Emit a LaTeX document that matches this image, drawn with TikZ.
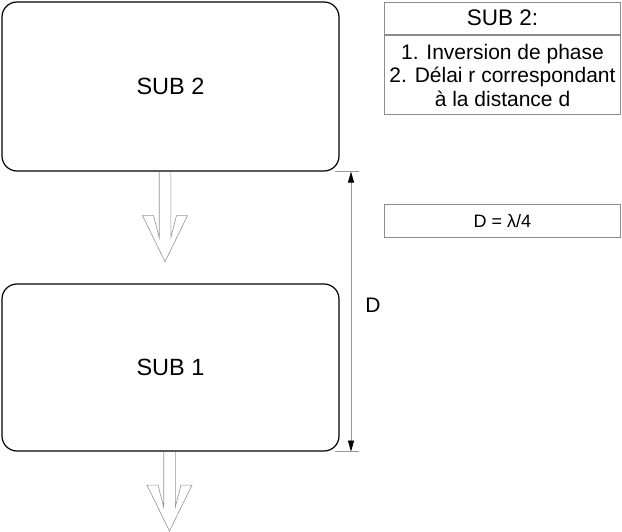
\documentclass[tikz,border=0pt]{standalone}
\usepackage{fontspec}
\setmainfont{Liberation Sans}
\usetikzlibrary{arrows.meta}

\tikzset{
    subbox/.style={draw=black, line width=1.2pt, rounded corners=15pt,
        minimum width=337pt, font=\fontsize{23.5}{27}\selectfont},
    infobox/.style={draw=gray!90, line width=0.8pt, minimum width=236.5pt,
        inner sep=0pt, align=center},
    arrowline/.style={draw=gray!85, line width=0.6pt},
    dimline/.style={draw=gray!80, line width=0.7pt},
    pics/harrow/.style={code={
        \draw[arrowline] (-5.8,0) -- (-5.8,#1+22) -- (-11.5,#1) -- (-22.5,#1)
            -- (0,#1+46) -- (22.5,#1) -- (11.5,#1) -- (5.8,#1+22) -- (5.8,0);
    }}
}

\begin{document}
\begin{tikzpicture}[x=1pt, y=-1pt]
    \useasboundingbox (0,0) rectangle (622,532);

    % Two sub-woofer boxes
    \node[subbox, minimum height=169pt] (sub2) at (170.5,86.5) {SUB 2};
    \node[subbox, minimum height=167pt] (sub1) at (170.5,367.5) {SUB 1};

    % Hollow arrows below each box
    \pic at ([xshift=-5.5pt]sub2.south) {harrow=44};
    \pic at ([xshift=-1pt]sub1.south) {harrow=33.5};

    % Distance D between the two boxes
    \coordinate (dimx) at (351,0);
    \coordinate (dtop) at (sub2.south -| dimx);
    \coordinate (dbot) at (sub1.south -| dimx);
    \draw[dimline] ([xshift=-16pt]dtop) -- ([xshift=8pt]dtop);
    \draw[dimline] ([xshift=-16pt]dbot) -- ([xshift=8pt]dbot);
    \draw[dimline, {Triangle[color=black,width=6pt,length=11pt]}-{Triangle[color=black,width=6pt,length=11pt]}]
        (dtop) -- (dbot);
    \node[font=\fontsize{21}{24}\selectfont] (dlabel) at (373,305) {D};

    % Info boxes on the right
    \node[infobox, minimum height=32.5pt, font=\fontsize{22.5}{26}\selectfont]
        (head) at (502.5,18.25) {SUB 2:};
    \node[infobox, minimum height=79.5pt, font=\fontsize{21}{23.5}\selectfont,
        anchor=north] (body) at (head.south) {1. Inversion de phase\\2. Délai r correspondant\\à la distance d};
    \node[infobox, minimum height=33.4pt, font=\fontsize{18}{21}\selectfont]
        (dval) at (502.5,221) {D = λ/4};
\end{tikzpicture}
\end{document}
